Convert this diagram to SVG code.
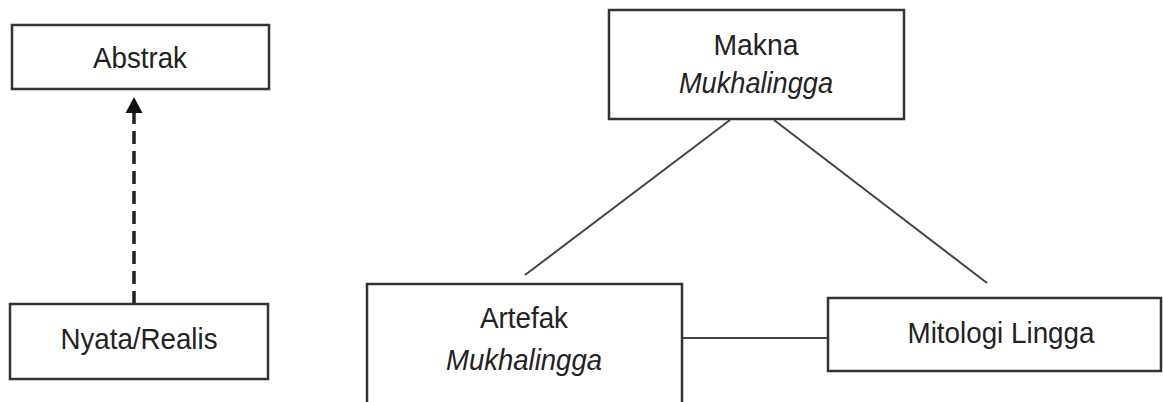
<svg xmlns="http://www.w3.org/2000/svg" width="1163" height="402" viewBox="0 0 1163 402">
<style>
.box{fill:#fff;stroke:#333;stroke-width:2.5}
.t{font-family:"Liberation Sans",Arial,sans-serif;font-size:30px;fill:#222;text-anchor:middle}
.i{font-style:italic}
.ln{stroke:#444;stroke-width:2;fill:none}
.dash{stroke:#222;stroke-width:3.5;stroke-dasharray:13 7;fill:none}
</style>
<rect width="1163" height="402" fill="#fff"/>
<g id="connectors">
<line class="dash" x1="134" y1="304" x2="134" y2="113"/>
<path d="M125.5,113 L134,97 L142.5,113 Z" fill="#111"/>
<line class="ln" x1="730" y1="120" x2="525" y2="275"/>
<line class="ln" x1="774" y1="120" x2="987" y2="283"/>
<line class="ln" x1="682" y1="338" x2="828" y2="338"/>
</g>
<g id="abstrak">
<rect class="box" x="12" y="25" width="257" height="64"/>
<text class="t" x="140" y="68" textLength="94" lengthAdjust="spacingAndGlyphs">Abstrak</text>
</g>
<g id="nyata">
<rect class="box" x="10" y="304" width="258" height="75"/>
<text class="t" x="139" y="349" textLength="157" lengthAdjust="spacingAndGlyphs">Nyata/Realis</text>
</g>
<g id="makna">
<rect class="box" x="609" y="10" width="295" height="109"/>
<text class="t" x="756" y="55" textLength="85" lengthAdjust="spacingAndGlyphs">Makna</text>
<text class="t i" x="756" y="93" textLength="154" lengthAdjust="spacingAndGlyphs">Mukhalingga</text>
</g>
<g id="artefak">
<rect class="box" x="367" y="284" width="315" height="140"/>
<text class="t" x="524" y="328" textLength="88" lengthAdjust="spacingAndGlyphs">Artefak</text>
<text class="t i" x="524" y="370" textLength="156" lengthAdjust="spacingAndGlyphs">Mukhalingga</text>
</g>
<g id="mitologi">
<rect class="box" x="828" y="298" width="333" height="73"/>
<text class="t" x="1001" y="343" textLength="187" lengthAdjust="spacingAndGlyphs">Mitologi Lingga</text>
</g>
</svg>
